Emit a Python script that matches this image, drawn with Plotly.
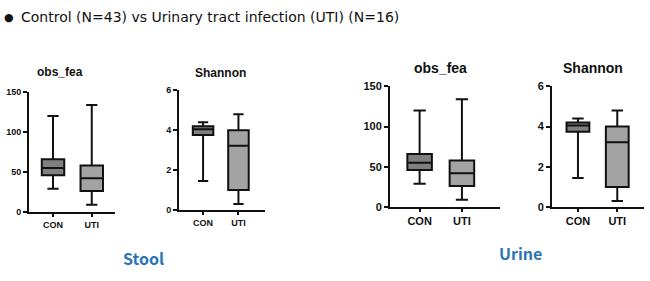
import plotly.graph_objects as go

groups = ["CON", "UTI"]
# obs_fea box stats (min, q1, median, q3, max)
obs_min = [29, 9]
obs_q1 = [46, 26]
obs_med = [55, 42]
obs_q3 = [66, 58]
obs_max = [120, 134]
# Shannon box stats
sha_min = [1.45, 0.3]
sha_q1 = [3.75, 1.0]
sha_med = [4.05, 3.22]
sha_q3 = [4.2, 4.0]
sha_max = [4.4, 4.8]

box_colors = ["#7f7f7f", "#a3a3a3"]

W, H = 650, 281

def px_x(x):
    return x / W

def px_y(y):
    return 1 - y / H

panels = [
    dict(x0=29, x1=115, yb=215, yt=90, xr=[-0.62, 1.6], yr=[0, 150], dt=50,
         st=(obs_min, obs_q1, obs_med, obs_q3, obs_max), title="obs_fea", tx=60, ty=69, tfs=12, ffs=9),
    dict(x0=179, x1=265, yb=213, yt=88, xr=[-0.68, 1.75], yr=[0, 6], dt=2,
         st=(sha_min, sha_q1, sha_med, sha_q3, sha_max), title="Shannon", tx=220, ty=70, tfs=12, ffs=9),
    dict(x0=390, x1=500, yb=210, yt=84, xr=[-0.7, 1.9], yr=[0, 150], dt=50,
         st=(obs_min, obs_q1, obs_med, obs_q3, obs_max), title="obs_fea", tx=440, ty=65, tfs=14, ffs=11),
    dict(x0=552, x1=644, yb=210, yt=84, xr=[-0.66, 1.68], yr=[0, 6], dt=2,
         st=(sha_min, sha_q1, sha_med, sha_q3, sha_max), title="Shannon", tx=593, ty=65, tfs=14, ffs=11),
]

fig = go.Figure()
annotations = []
layout = {}
for i, p in enumerate(panels):
    n = "" if i == 0 else str(i + 1)
    mn, q1, md, q3, mx = p["st"]
    for j, g in enumerate(groups):
        fig.add_trace(go.Box(
            x=[g], q1=[q1[j]], median=[md[j]], q3=[q3[j]],
            lowerfence=[mn[j]], upperfence=[mx[j]],
            fillcolor=box_colors[j], line=dict(color="#111111", width=2),
            width=0.58, whiskerwidth=0.5, boxpoints=False,
            xaxis="x" + n, yaxis="y" + n, showlegend=False, hoverinfo="skip",
        ))
    layout["xaxis" + n] = dict(
        domain=[px_x(p["x0"]), px_x(p["x1"])], anchor="y" + n,
        type="category", categoryorder="array", categoryarray=groups,
        range=p["xr"], showline=True, linecolor="#111111", linewidth=2,
        ticks="outside", ticklen=3, tickwidth=1.5, tickcolor="#111111",
        showgrid=False, zeroline=False,
        tickfont=dict(family="Liberation Sans", size=p["ffs"], color="#111111", weight="bold"),
    )
    layout["yaxis" + n] = dict(
        domain=[px_y(p["yb"]), px_y(p["yt"])], anchor="x" + n,
        range=p["yr"], dtick=p["dt"], showline=True, linecolor="#111111", linewidth=2,
        ticks="outside", ticklen=4, tickwidth=1.5, tickcolor="#111111",
        showgrid=False, zeroline=False,
        tickfont=dict(family="Liberation Sans", size=p["ffs"], color="#111111", weight="bold"),
    )
    annotations.append(dict(
        text="<b>" + p["title"] + "</b>", x=px_x(p["tx"]), y=px_y(p["ty"]),
        xref="paper", yref="paper", xanchor="center", yanchor="middle", showarrow=False,
        font=dict(family="Liberation Sans", size=p["tfs"], color="#111111"),
    ))

annotations.append(dict(
    text="●", x=px_x(2), y=px_y(12), xref="paper", yref="paper", xanchor="left", yanchor="middle",
    showarrow=False, font=dict(family="DejaVu Sans", size=11, color="#111111"),
))
annotations.append(dict(
    text="Control (N=43) vs Urinary tract infection (UTI) (N=16)",
    x=px_x(19), y=px_y(12), xref="paper", yref="paper", xanchor="left", yanchor="middle",
    showarrow=False, font=dict(family="DejaVu Sans", size=14, color="#111111"),
))
annotations.append(dict(
    text="<b>Stool</b>", x=px_x(143), y=px_y(263), xref="paper", yref="paper",
    xanchor="center", yanchor="middle", showarrow=False,
    font=dict(family="Noto Sans CJK KR", size=16, color="#2a74b3"),
))
annotations.append(dict(
    text="<b>Urine</b>", x=px_x(520), y=px_y(258), xref="paper", yref="paper",
    xanchor="center", yanchor="middle", showarrow=False,
    font=dict(family="Noto Sans CJK KR", size=16, color="#2a74b3"),
))

fig.update_layout(
    width=W, height=H, margin=dict(l=0, r=0, t=0, b=0),
    paper_bgcolor="white", plot_bgcolor="white",
    annotations=annotations, **layout,
)

fig.write_html("out.html")
